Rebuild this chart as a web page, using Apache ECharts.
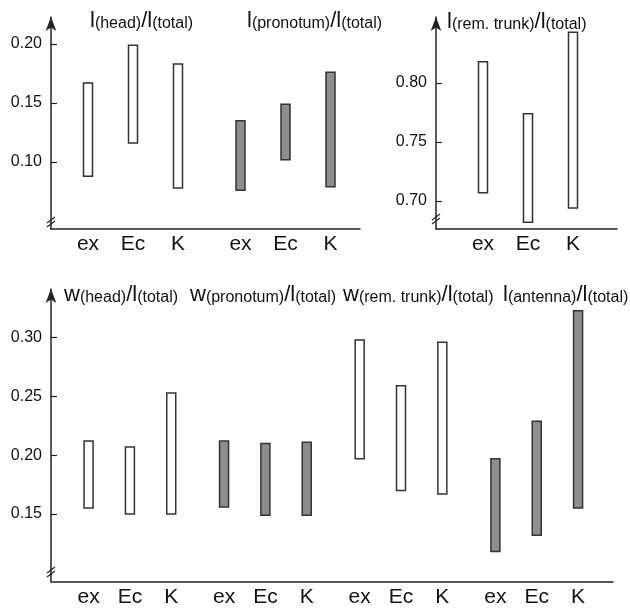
<!DOCTYPE html>
<html>
<head>
<meta charset="utf-8">
<script src="https://cdn.jsdelivr.net/npm/echarts@6/dist/echarts.min.js"></script>
<style>
  html, body { margin: 0; padding: 0; background: #fff; }
  #chart { width: 630px; height: 608px; }
</style>
</head>
<body>
<div id="chart"></div>
<script>
var cats = ['ex', 'Ec', 'K'];

// ranges (min / max)
var headLMin = [0.088, 0.116, 0.078];
var headLMax = [0.167, 0.199, 0.183];
var pronLMin = [0.076, 0.102, 0.079];
var pronLMax = [0.135, 0.149, 0.176];
var remLMin = [0.707, 0.682, 0.694];
var remLMax = [0.818, 0.774, 0.843];

var headWMin = [0.155, 0.150, 0.150];
var headWMax = [0.212, 0.207, 0.253];
var pronWMin = [0.156, 0.149, 0.149];
var pronWMax = [0.212, 0.210, 0.211];
var remWMin = [0.197, 0.170, 0.167];
var remWMax = [0.298, 0.259, 0.296];
var antLMin = [0.118, 0.132, 0.155];
var antLMax = [0.197, 0.229, 0.323];

// tick labels
var ticksTL = [0.10, 0.15, 0.20];
var ticksTR = [0.70, 0.75, 0.80];
var ticksB = [0.15, 0.20, 0.25, 0.30];

var WHITE = '#ffffff';
var GRAY = '#8d8d8d';
var INK = '#222';
var FONT = 'Liberation Sans, Arial, sans-serif';

var chart = echarts.init(document.getElementById('chart'));

// panel ranges (axis bottom / arrow tip)
var rangeTL = { min: 0.0432, max: 0.2229 };
var rangeTR = { min: 0.6763, max: 0.8559 };
var rangeB = { min: 0.0924, max: 0.3414 };

var grids = [];
var xAxes = [];
var yAxes = [];
var series = [];

function bgPanel(left, width, top, height, range, ticks) {
  var idx = grids.length;
  grids.push({ left: left, top: top, width: width, height: height });
  xAxes.push({
    gridIndex: idx, type: 'value', min: 0, max: 1,
    axisLine: { show: true, onZero: false, lineStyle: { color: INK, width: 1.5 } },
    axisTick: { show: false }, axisLabel: { show: false }, splitLine: { show: false }
  });
  yAxes.push({
    gridIndex: idx, type: 'value', min: range.min, max: range.max,
    axisLine: { show: true, onZero: false, symbol: ['none', 'arrow'], symbolSize: [8, 14],
      lineStyle: { color: INK, width: 1.5 } },
    axisTick: { show: true, inside: true, length: 6, customValues: ticks,
      lineStyle: { color: INK, width: 1.2 } },
    axisLabel: { show: true, customValues: ticks, margin: 9, fontSize: 16,
      fontFamily: FONT, color: '#111',
      formatter: function (v) { return v.toFixed(2); } },
    splitLine: { show: false }
  });
}

function renderRange(params, api) {
  var hi = api.coord([api.value(0), api.value(2)]);
  var lo = api.coord([api.value(0), api.value(1)]);
  var w = 9;
  return {
    type: 'rect',
    shape: { x: hi[0] - w / 2, y: hi[1], width: w, height: lo[1] - hi[1] },
    style: { fill: api.visual('color'), stroke: '#333', lineWidth: 1.5 }
  };
}

function group(left, width, top, height, range, mins, maxs, color) {
  var idx = grids.length;
  grids.push({ left: left, top: top, width: width, height: height });
  xAxes.push({
    gridIndex: idx, type: 'category', data: cats,
    axisLine: { show: false }, axisTick: { show: false },
    axisLabel: { margin: 5, fontSize: 21, color: '#111', fontFamily: FONT }
  });
  yAxes.push({ gridIndex: idx, type: 'value', min: range.min, max: range.max, show: false });
  series.push({
    type: 'custom', xAxisIndex: idx, yAxisIndex: idx,
    itemStyle: { color: color },
    renderItem: renderRange,
    data: cats.map(function (c, i) { return [i, mins[i], maxs[i]]; })
  });
}

// top-left panel
bgPanel(51, 309, 17, 212, rangeTL, ticksTL);
group(65.5, 135, 17, 212, rangeTL, headLMin, headLMax, WHITE);
group(218, 135, 17, 212, rangeTL, pronLMin, pronLMax, GRAY);
// top-right panel
bgPanel(436, 181, 17, 212, rangeTR, ticksTR);
group(460.5, 135, 17, 212, rangeTR, remLMin, remLMax, WHITE);
// bottom panel
bgPanel(51, 562, 289, 292.7, rangeB, ticksB);
group(67.9, 124, 289, 292.7, rangeB, headWMin, headWMax, WHITE);
group(203.4, 124, 289, 292.7, rangeB, pronWMin, pronWMax, GRAY);
group(339, 124, 289, 292.7, rangeB, remWMin, remWMax, WHITE);
group(474.75, 124, 289, 292.7, rangeB, antLMin, antLMax, GRAY);

function title(x, y, big, sub) {
  return {
    type: 'text', x: x, y: y,
    style: {
      text: '{b|' + big + '}{s|' + sub + '}{b|/l}{s|(total)}',
      verticalAlign: 'middle', fill: '#111',
      rich: {
        b: { fontSize: 22, fontFamily: FONT, fill: '#111', verticalAlign: 'bottom' },
        s: { fontSize: 16, fontFamily: FONT, fill: '#111', verticalAlign: 'bottom' }
      }
    }
  };
}

function brk(x, y) {
  return [
    { type: 'line', shape: { x1: x - 4, y1: y + 1, x2: x + 4, y2: y - 5 }, style: { stroke: INK, lineWidth: 1.2 } },
    { type: 'line', shape: { x1: x - 4, y1: y + 5, x2: x + 4, y2: y - 1 }, style: { stroke: INK, lineWidth: 1.2 } }
  ];
}

var graphics = [
  title(90, 21, 'l', '(head)'),
  title(247, 21, 'l', '(pronotum)'),
  title(447, 22, 'l', '(rem. trunk)'),
  title(64, 295, 'w', '(head)'),
  title(190, 295, 'w', '(pronotum)'),
  title(343, 295, 'w', '(rem. trunk)'),
  title(503, 295, 'l', '(antenna)')
].concat(brk(51, 222), brk(436, 219), brk(51, 572));

chart.setOption({
  backgroundColor: '#fff',
  animation: false,
  grid: grids,
  xAxis: xAxes,
  yAxis: yAxes,
  series: series,
  graphic: graphics
});
</script>
</body>
</html>
